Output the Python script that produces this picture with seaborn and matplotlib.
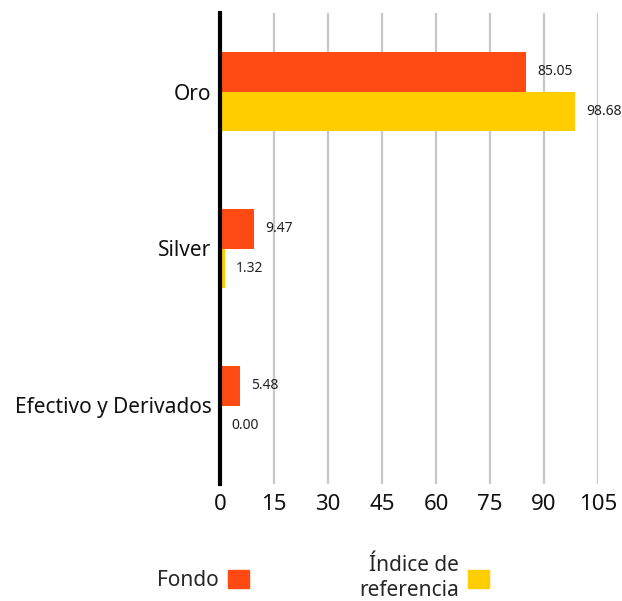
import matplotlib
matplotlib.use("Agg")
import matplotlib.pyplot as plt
import matplotlib.patches as mpatches
import seaborn as sns
import pandas as pd

categories = ["Oro", "Silver", "Efectivo y Derivados"]
fondo = [85.05, 9.47, 5.48]
indice = [98.68, 1.32, 0.00]
series_names = ["Fondo", "Índice de\nreferencia"]
colors = ["#FF4A14", "#FFCD00"]
xticks = [0, 15, 30, 45, 60, 75, 90, 105]

df = pd.DataFrame({
    "cat": categories * 2,
    "val": fondo + indice,
    "serie": [series_names[0]] * 3 + [series_names[1]] * 3,
})

sns.set_style("white")
plt.rcParams["font.family"] = ["Noto Sans", "DejaVu Sans"]

fig = plt.figure(figsize=(6.22, 6.01), dpi=100)
ax = fig.add_axes([220 / 622, 1 - 484 / 601, 378 / 622, 471 / 601])

sns.barplot(data=df, x="val", y="cat", hue="serie", orient="h",
            palette=colors, width=0.5, legend=False, ax=ax, saturation=1,
            linewidth=0)

for cont in ax.containers:
    ax.bar_label(cont, fmt="%.2f", padding=8, fontsize=10, color="#222222")

ax.set_xlim(0, 105)
ax.set_ylim(2.5, -0.5)
ax.set_xticks(xticks)
ax.set_xlabel("")
ax.set_ylabel("")
ax.grid(axis="x", color="#C8C8C8", linewidth=1.6)
ax.grid(axis="y", visible=False)
ax.set_axisbelow(True)
for s in ["top", "right", "bottom"]:
    ax.spines[s].set_visible(False)
ax.spines["left"].set_color("black")
ax.spines["left"].set_linewidth(3)
ax.spines["left"].set_zorder(5)
ax.tick_params(axis="x", length=0, pad=7, labelsize=16, colors="#111111")
ax.tick_params(axis="y", length=0, pad=6, labelsize=15, colors="#111111")

handles = [mpatches.Patch(color=c) for c in colors]
leg = fig.legend(handles, series_names, loc="center", ncol=2,
                 bbox_to_anchor=(323 / 622, 1 - 578 / 601), frameon=False,
                 markerfirst=False, fontsize=15, handlelength=1.0,
                 handleheight=1.0, handletextpad=0.45, columnspacing=5.3,
                 labelspacing=0.2)
for t in leg.get_texts():
    t.set_multialignment("right")

fig.savefig("out.png", dpi=100)
